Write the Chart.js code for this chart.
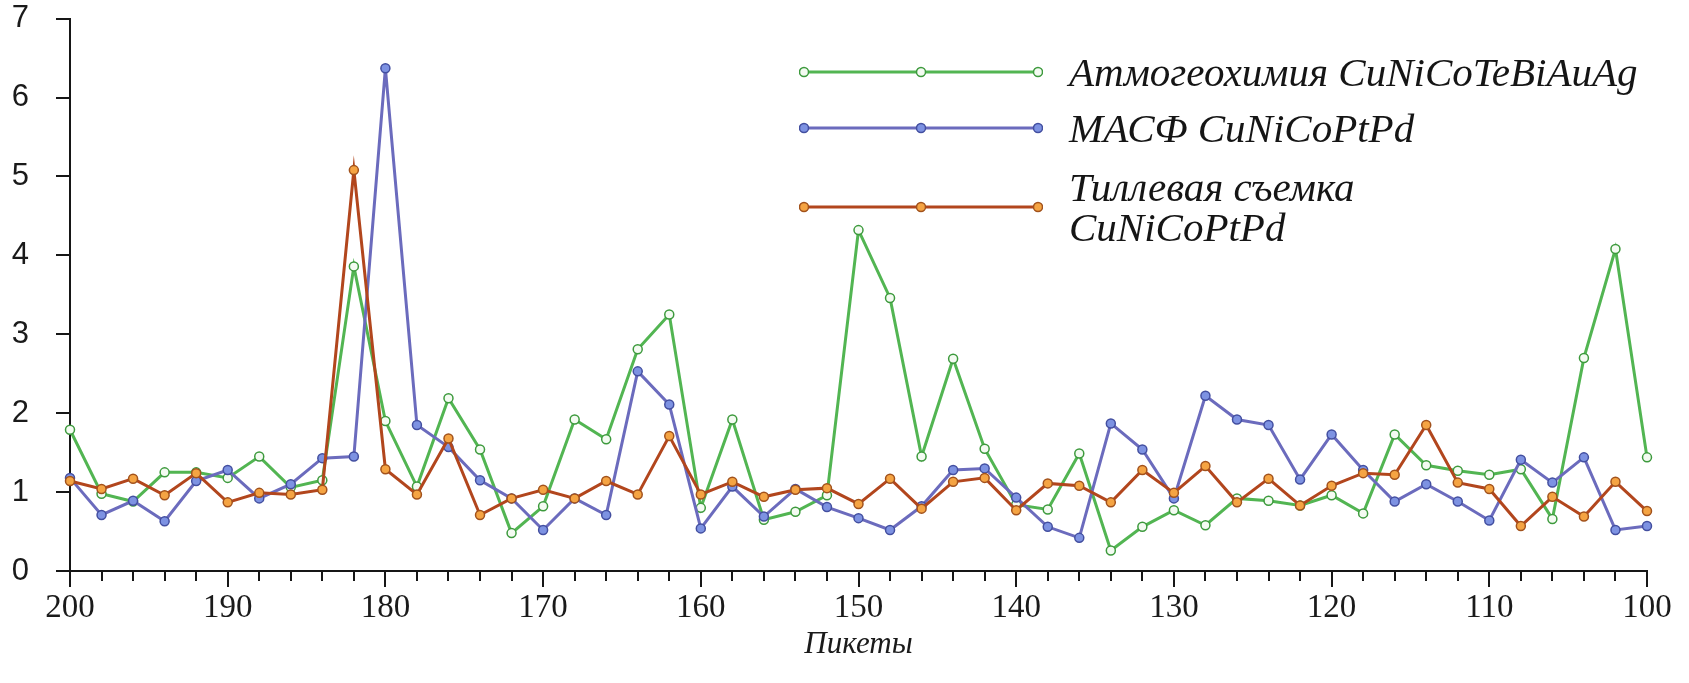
<!DOCTYPE html>
<html lang="ru">
<head>
<meta charset="utf-8">
<title>Пикеты</title>
<script src="https://cdn.jsdelivr.net/npm/chart.js@4.4.1/dist/chart.umd.min.js"></script>
<style>
  html, body { margin: 0; padding: 0; background: #fff; }
  .wrap { position: relative; width: 1689px; height: 683px; }
  #chart { display: block; }
  .legend-row {
    position: absolute; left: 799px;
    display: flex; align-items: center;
    font-family: 'Liberation Serif', 'Times New Roman', serif;
    font-style: italic; font-size: 41px; line-height: 40px; color: #151515;
  }
  .legend-row svg { flex: none; margin-right: 26px; }
</style>
</head>
<body>
<div class="wrap">
  <canvas id="chart" width="1689" height="683"></canvas>
  <div id="legend"></div>
</div>
<script>
// ── Профиль: пикеты 200 → 100, шаг 2 ──
const pickets = [200, 198, 196, 194, 192, 190, 188, 186, 184, 182,
                 180, 178, 176, 174, 172, 170, 168, 166, 164, 162,
                 160, 158, 156, 154, 152, 150, 148, 146, 144, 142,
                 140, 138, 136, 134, 132, 130, 128, 126, 124, 122,
                 120, 118, 116, 114, 112, 110, 108, 106, 104, 102, 100];

const atmoValues = [1.79, 0.98, 0.88, 1.25, 1.25, 1.18, 1.45, 1.06, 1.15, 3.86,
                    1.90, 1.07, 2.19, 1.54, 0.48, 0.82, 1.92, 1.67, 2.81, 3.25,
                    0.80, 1.92, 0.65, 0.75, 0.96, 4.32, 3.46, 1.45, 2.69, 1.55,
                    0.84, 0.78, 1.49, 0.26, 0.56, 0.77, 0.58, 0.92, 0.89, 0.83,
                    0.96, 0.73, 1.73, 1.34, 1.27, 1.22, 1.29, 0.66, 2.70, 4.08, 1.44];

const masfValues = [1.18, 0.71, 0.89, 0.63, 1.14, 1.28, 0.92, 1.10, 1.43, 1.45,
                    6.37, 1.85, 1.57, 1.15, 0.92, 0.52, 0.92, 0.71, 2.53, 2.11,
                    0.54, 1.07, 0.69, 1.04, 0.81, 0.67, 0.52, 0.82, 1.28, 1.30,
                    0.93, 0.56, 0.42, 1.87, 1.54, 0.92, 2.22, 1.92, 1.85, 1.16,
                    1.73, 1.28, 0.88, 1.10, 0.88, 0.64, 1.41, 1.12, 1.44, 0.52, 0.57];

const tillValues = [1.14, 1.04, 1.17, 0.96, 1.24, 0.87, 0.99, 0.97, 1.03, 5.08,
                    1.29, 0.97, 1.68, 0.71, 0.92, 1.03, 0.92, 1.14, 0.97, 1.71,
                    0.97, 1.13, 0.94, 1.03, 1.05, 0.85, 1.17, 0.79, 1.13, 1.18,
                    0.77, 1.11, 1.08, 0.87, 1.28, 0.99, 1.33, 0.87, 1.17, 0.83,
                    1.08, 1.24, 1.22, 1.85, 1.12, 1.04, 0.57, 0.94, 0.69, 1.13, 0.76];

const seriesNames = ['Атмогеохимия CuNiCoTeBiAuAg', 'МАСФ CuNiCoPtPd', 'Тиллевая съемка<br>CuNiCoPtPd'];
const xRange = [100, 200];
const yRange = [0, 7];

const SERIES = [
  { name: seriesNames[0], values: atmoValues, line: '#52b552', fill: '#f4fbf2', edge: '#3d9a3d', row: 52 },
  { name: seriesNames[1], values: masfValues, line: '#6b6bbd', fill: '#7d92e2', edge: '#434fa0', row: 108 },
  { name: seriesNames[2], values: tillValues, line: '#b2461d', fill: '#f5a443', edge: '#a2521c', row: 167 },
];

// outward tick marks: long on labelled values, short in between
const axisTicks = {
  id: 'axisTicks',
  afterDraw(chart) {
    const { ctx, chartArea, scales: { x, y } } = chart;
    ctx.save();
    ctx.strokeStyle = '#161616';
    ctx.lineWidth = 2;
    ctx.beginPath();
    y.ticks.forEach(t => {
      const py = Math.round(y.getPixelForValue(t.value));
      const len = Number.isInteger(t.value) ? 14 : 7;
      ctx.moveTo(chartArea.left, py);
      ctx.lineTo(chartArea.left - len, py);
    });
    x.ticks.forEach(t => {
      const px = Math.round(x.getPixelForValue(t.value));
      const len = t.value % 10 === 0 ? 16 : 10;
      ctx.moveTo(px, chartArea.bottom);
      ctx.lineTo(px, chartArea.bottom + len);
    });
    ctx.stroke();
    ctx.restore();
  }
};

new Chart(document.getElementById('chart'), {
  type: 'line',
  data: {
    datasets: SERIES.map((s, i) => ({
      label: s.name,
      data: pickets.map((p, k) => ({ x: p, y: s.values[k] })),
      borderColor: s.line,
      borderWidth: 3,
      pointRadius: 4.5,
      pointBorderWidth: 1.5,
      pointBackgroundColor: s.fill,
      pointBorderColor: s.edge,
      tension: 0,
      clip: false,
      order: SERIES.length - i,
    }))
  },
  options: {
    responsive: false,
    animation: false,
    layout: { padding: { top: 16, right: 42, left: 0, bottom: 0 } },
    plugins: { legend: { display: false }, tooltip: { enabled: false } },
    scales: {
      x: {
        type: 'linear', reverse: true,
        min: xRange[0], max: xRange[1],
        afterFit: scale => { scale.height = 112; },
        border: { display: true, color: '#161616', width: 2 },
        // grid hidden; tickLength only sets the gap to the labels
        grid: { display: false, drawTicks: true, tickLength: 18 },
        ticks: {
          stepSize: 2, autoSkip: false, maxRotation: 0, padding: 0,
          color: '#1a1a1a',
          font: { family: "'Liberation Serif', 'Times New Roman', serif", size: 33 },
          callback: v => (v % 10 === 0 ? String(v) : '')
        },
        title: {
          display: true, text: 'Пикеты', color: '#1a1a1a',
          padding: { top: 0, bottom: 20 },
          font: { family: "'Liberation Serif', 'Times New Roman', serif", size: 31, style: 'italic' }
        }
      },
      y: {
        min: yRange[0], max: yRange[1],
        afterFit: scale => { scale.width = 70; },
        border: { display: true, color: '#161616', width: 2 },
        grid: { display: false, drawTicks: true, tickLength: 41 },
        ticks: {
          stepSize: 0.5, padding: 0, color: '#1a1a1a',
          font: { family: "'Liberation Sans', Arial, sans-serif", size: 31 },
          callback: v => (Number.isInteger(v) ? String(v) : '')
        }
      }
    }
  },
  plugins: [axisTicks]
});

// legend: line with three markers, then the series name
const legend = document.getElementById('legend');
legend.innerHTML = SERIES.map(s =>
  `<div class="legend-row" style="top:${s.row}px">
    <svg width="244" height="16" viewBox="0 0 244 16">
      <line x1="5" y1="8" x2="239" y2="8" stroke="${s.line}" stroke-width="3"/>
      ${[5, 122, 239].map(cx =>
        `<circle cx="${cx}" cy="8" r="4.5" fill="${s.fill}" stroke="${s.edge}" stroke-width="1.5"/>`).join('')}
    </svg>
    <span>${s.name}</span>
  </div>`
).join('');
</script>
</body>
</html>
